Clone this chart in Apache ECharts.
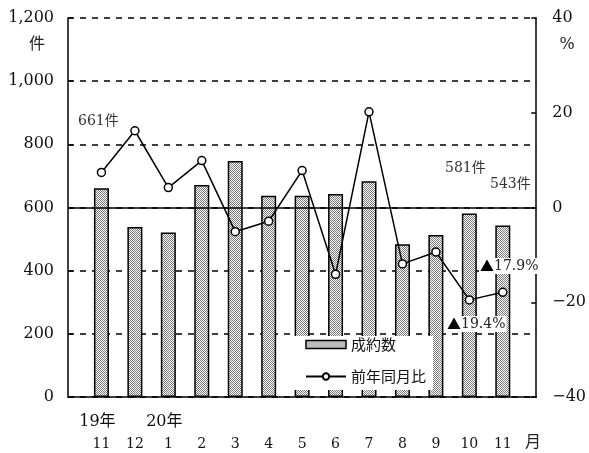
<!DOCTYPE html>
<html><head><meta charset="utf-8">
<script src="https://cdn.jsdelivr.net/npm/echarts@6/dist/echarts.min.js"></script>
<style>html,body{margin:0;padding:0;background:#fff}#c{width:589px;height:453px}</style>
</head><body><div id="c"></div>
<script>
const months = ['11','12','1','2','3','4','5','6','7','8','9','10','11'];
const years  = ['19年','','20年','','','','','','','','','',''];
const contracts = [661,538,521,671,747,637,637,643,683,484,513,581,543];
const yoy = [7.4,16.2,4.2,9.9,-5.1,-2.9,7.8,-14.1,20.2,-11.9,-9.4,-19.5,-17.9];
const leftTicks = {min:0, max:1200, interval:200};
const rightTicks = {min:-40, max:40, interval:20};

const serif = '"DejaVu Serif","Noto Sans CJK JP",serif';
const cjk = '"Noto Sans CJK JP",sans-serif';
// pad categories with an empty slot at each end
const cats = [''].concat(months.map((m,i)=>i+'')).concat(['']);
const barData = [null].concat(contracts).concat([null]);
const lineData = [null].concat(yoy).concat([null]);

const pc = document.createElement('canvas'); pc.width=2; pc.height=2;
const g = pc.getContext('2d'); g.fillStyle='#fff'; g.fillRect(0,0,2,2);
g.fillStyle='#7a7a7a'; g.fillRect(0,0,1,1); g.fillRect(1,1,1,1);

const chart = echarts.init(document.getElementById('c'), null, {renderer:'canvas'});
function txt(text, x, y, size, opts){
  return {type:'text', z:100, style:Object.assign({text:text, x:x, y:y, font: size+'px '+serif, fill:'#222', verticalAlign:'middle', align:'left'}, opts||{})};
}
const triRich = {t:{fontFamily:cjk, fontSize:14, fill:'#000', color:'#000'}, n:{fontFamily:serif, fontSize:14, fill:'#222', color:'#222'}};
chart.setOption({
  animation:false,
  grid:{left:68, right:49, top:18, bottom:56},
  legend:{
    orient:'vertical', left:290, top:336, backgroundColor:'#fff', padding:[1,7,6,15],
    itemWidth:40, itemHeight:8, itemGap:17,
    textStyle:{fontFamily:cjk, fontSize:15, lineHeight:14, color:'#111'},
    data:[{name:'成約数', icon:'rect', itemStyle:{borderColor:'#000', borderWidth:1.5}},{name:'前年同月比'}]
  },
  xAxis:{
    type:'category', boundaryGap:false, data:cats,
    axisLine:{onZero:false, lineStyle:{color:'#000', width:1.5}},
    axisTick:{show:false},
    axisLabel:{interval:0, margin:14, color:'#111',
      formatter:function(v){ if(v==='') return ''; const i=+v; return '{y|'+(years[i]||' ')+'}\n{m|'+months[i]+'}'; },
      rich:{ y:{fontFamily:serif, fontSize:16, lineHeight:22, color:'#111', padding:[0,8,0,0]}, m:{fontFamily:serif, fontSize:14, lineHeight:22, color:'#111'} }
    }
  },
  yAxis:[
    {type:'value', min:leftTicks.min, max:leftTicks.max, interval:leftTicks.interval,
     axisLine:{show:true, onZero:false, lineStyle:{color:'#000', width:1.5}},
     axisTick:{show:true, inside:true, length:5, lineStyle:{color:'#000', width:1.5}},
     axisLabel:{margin:14, color:'#111', fontFamily:serif, fontSize:16, formatter:v=>v.toLocaleString('en-US')},
     splitLine:{show:true, lineStyle:{color:'#000', type:[6,6], width:1.5}}
    },
    {type:'value', min:rightTicks.min, max:rightTicks.max, interval:rightTicks.interval,
     axisLine:{show:true, onZero:false, lineStyle:{color:'#000', width:1.5}},
     axisTick:{show:true, inside:true, length:5, lineStyle:{color:'#000', width:1.5}},
     axisLabel:{margin:16, color:'#111', fontFamily:serif, fontSize:16, formatter:v=>String(v).replace('-','\u2212')},
     splitLine:{show:false}
    }
  ],
  series:[
    {name:'成約数', type:'bar', yAxisIndex:0, data:barData, barWidth:15,
     itemStyle:{color:{image:pc, repeat:'repeat'}, borderColor:'#000', borderWidth:1.5},
     markLine:{silent:true, symbol:'none', z:10, label:{show:false}, lineStyle:{color:'#000', type:'solid', width:1.5}, data:[{yAxis:600}]}
    },
    {name:'前年同月比', type:'line', yAxisIndex:1, data:lineData,
     symbol:'circle', symbolSize:8, showSymbol:true,
     lineStyle:{color:'#000', width:1.5},
     itemStyle:{color:'#fff', borderColor:'#000', borderWidth:1.5}
    }
  ],
  graphic:[
    txt('件', 37, 45, 16, {align:'center'}),
    txt('%', 567, 45, 16, {align:'center'}),
    txt('月', 533, 443, 16, {align:'center'}),
    txt('661件', 78, 121, 14, {fill:'#333'}),
    txt('581件', 445, 168, 14, {fill:'#333'}),
    txt('543件', 490, 184, 14, {fill:'#333'}),
    txt('{t|▲}{n|17.9%}', 479, 266, 14, {backgroundColor:'#fff', padding:[1,1], rich:triRich}),
    txt('{t|▲}{n|19.4%}', 446, 324, 14, {backgroundColor:'#fff', padding:[1,1], rich:triRich})
  ]
});
</script></body></html>
